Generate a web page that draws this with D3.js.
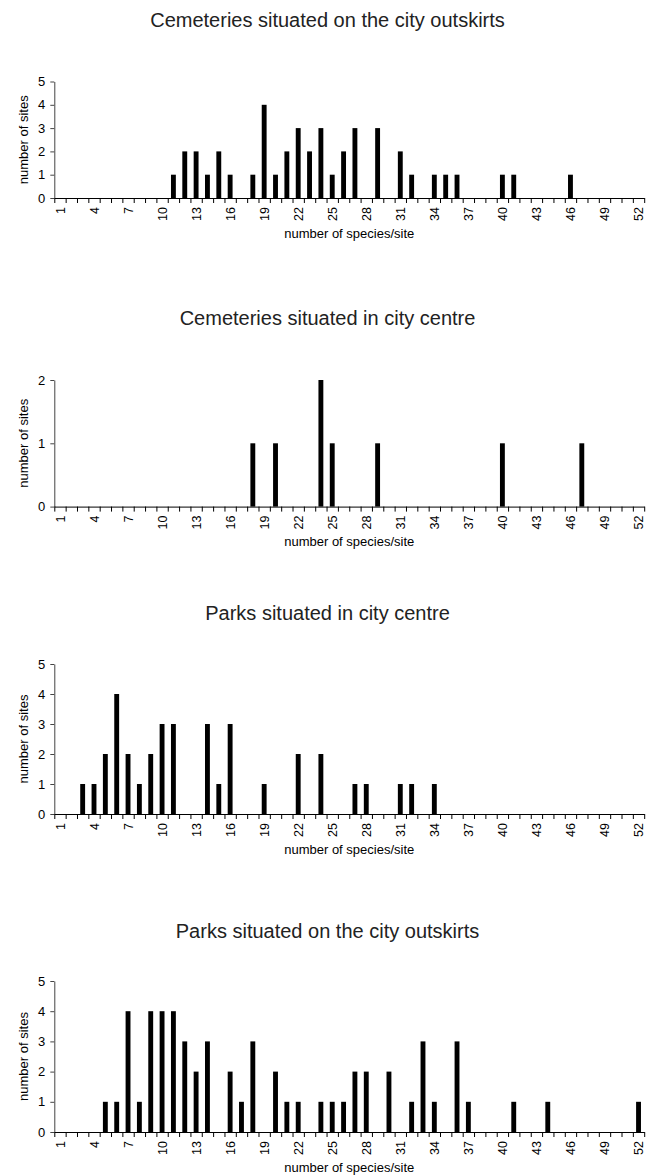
<!DOCTYPE html>
<html>
<head>
<meta charset="utf-8">
<script src="https://cdn.jsdelivr.net/npm/d3@7"></script>
<style>
  html, body { margin: 0; padding: 0; background: #fff; }
  svg { display: block; }
  text { font-family: "Liberation Sans", Arial, sans-serif; fill: #000; }
</style>
</head>
<body>
<script>
// ---- data ----
const categories = [1,2,3,4,5,6,7,8,9,10,11,12,13,14,15,16,17,18,19,20,21,22,23,24,25,26,
                    27,28,29,30,31,32,33,34,35,36,37,38,39,40,41,42,43,44,45,46,47,48,49,50,51,52];
const tickLabels = [1,4,7,10,13,16,19,22,25,28,31,34,37,40,43,46,49,52];

const titles = [
  "Cemeteries situated on the city outskirts",
  "Cemeteries situated in city centre",
  "Parks situated in city centre",
  "Parks situated on the city outskirts"
];
const yMaxValues = [5, 2, 5, 5];

//                              1 2 3 4 5 6 7 8 9 10 11 12 13 14 15 16 17 18 19 20 21 22 23 24 25 26 27 28 29 30 31 32 33 34 35 36 37 38 39 40 41 42 43 44 45 46 47 48 49 50 51 52
const cemeteriesOutskirts   = [0,0,0,0,0,0,0,0,0,0, 1, 2, 2, 1, 2, 1, 0, 1, 4, 1, 2, 3, 2, 3, 1, 2, 3, 0, 3, 0, 2, 1, 0, 1, 1, 1, 0, 0, 0, 1, 1, 0, 0, 0, 0, 1, 0, 0, 0, 0, 0, 0];
const cemeteriesCentre      = [0,0,0,0,0,0,0,0,0,0, 0, 0, 0, 0, 0, 0, 0, 1, 0, 1, 0, 0, 0, 2, 1, 0, 0, 0, 1, 0, 0, 0, 0, 0, 0, 0, 0, 0, 0, 1, 0, 0, 0, 0, 0, 0, 1, 0, 0, 0, 0, 0];
const parksCentre           = [0,0,1,1,2,4,2,1,2,3, 3, 0, 0, 3, 1, 3, 0, 0, 1, 0, 0, 2, 0, 2, 0, 0, 1, 1, 0, 0, 1, 1, 0, 1, 0, 0, 0, 0, 0, 0, 0, 0, 0, 0, 0, 0, 0, 0, 0, 0, 0, 0];
const parksOutskirts        = [0,0,0,0,1,1,4,1,4,4, 4, 3, 2, 3, 0, 2, 1, 3, 0, 2, 1, 1, 0, 1, 1, 1, 2, 2, 0, 2, 0, 1, 3, 1, 0, 3, 1, 0, 0, 0, 1, 0, 0, 1, 0, 0, 0, 0, 0, 0, 0, 1];

const seriesList = [cemeteriesOutskirts, cemeteriesCentre, parksCentre, parksOutskirts];

// ---- layout ----
const W = 655, H = 1175;
const xLeft = 54.3, xRight = 644.2;
const panels = [
  { titleY: 27,  top: 81.5, zero: 198 },
  { titleY: 325, top: 380,  zero: 506.6 },
  { titleY: 620, top: 664,  zero: 814 },
  { titleY: 938, top: 981,  zero: 1132 }
];

const svg = d3.select("body").append("svg")
  .attr("width", W).attr("height", H);

const xBand = d3.scaleBand().domain(categories).range([xLeft, xRight]).padding(0);
const xLin = d3.scaleLinear().domain([0.5, 52.5]).range([xLeft, xRight]);
const barW = xBand.bandwidth() * 0.43;

panels.forEach((p, i) => {
  const g = svg.append("g");
  const values = seriesList[i];
  const y = d3.scaleLinear().domain([0, yMaxValues[i]]).range([p.zero, p.top]);

  // title
  g.append("text")
    .attr("x", 327.5).attr("y", p.titleY)
    .attr("text-anchor", "middle")
    .style("font-size", "20px")
    .style("fill", "#222")
    .text(titles[i]);

  // bars
  g.selectAll("rect.bar").data(categories.map((c, k) => ({ c, v: values[k] })).filter(d => d.v > 0))
    .enter().append("rect")
    .attr("class", "bar")
    .attr("x", d => xBand(d.c) + xBand.bandwidth() / 2 - barW / 2)
    .attr("y", d => y(d.v))
    .attr("width", barW)
    .attr("height", d => y(0) - y(d.v))
    .attr("fill", "#000");

  // y axis
  const yAxis = d3.axisLeft(y)
    .tickValues(d3.range(0, yMaxValues[i] + 1))
    .tickFormat(d3.format("d"))
    .tickSizeInner(4).tickSizeOuter(0).tickPadding(5);
  const yg = g.append("g").attr("transform", `translate(${xLeft},0)`).call(yAxis);
  yg.select(".domain").attr("stroke", "#444");
  yg.selectAll(".tick line").attr("stroke", "#444");
  yg.selectAll("text").style("font-size", "13px").style("fill", "#000");

  // x axis: boundary ticks
  const xTicks = d3.axisBottom(xLin)
    .tickValues(d3.range(0.5, 53, 1))
    .tickFormat("")
    .tickSizeInner(5).tickSizeOuter(0);
  const xg = g.append("g").attr("transform", `translate(0,${p.zero})`).call(xTicks);
  xg.select(".domain").attr("stroke", "#000");
  xg.selectAll(".tick line").attr("stroke", "#000");

  // x axis labels
  const xLab = d3.axisBottom(xLin)
    .tickValues(tickLabels)
    .tickFormat(d3.format("d"))
    .tickSize(0);
  const xl = g.append("g").attr("transform", `translate(0,${p.zero})`).call(xLab);
  xl.select(".domain").remove();
  xl.selectAll("text")
    .style("font-size", "12.5px")
    .attr("transform", "rotate(-90)")
    .attr("text-anchor", "end")
    .attr("x", -9)
    .attr("y", 0)
    .attr("dy", "0.35em");

  // x axis title
  g.append("text")
    .attr("x", (xLeft + xRight) / 2).attr("y", p.zero + 39.5)
    .attr("text-anchor", "middle")
    .style("font-size", "13px")
    .text("number of species/site");

  // y axis title
  g.append("text")
    .attr("transform", `translate(28,${(p.top + p.zero) / 2}) rotate(-90)`)
    .attr("text-anchor", "middle")
    .style("font-size", "13px")
    .text("number of sites");
});
</script>
</body>
</html>
